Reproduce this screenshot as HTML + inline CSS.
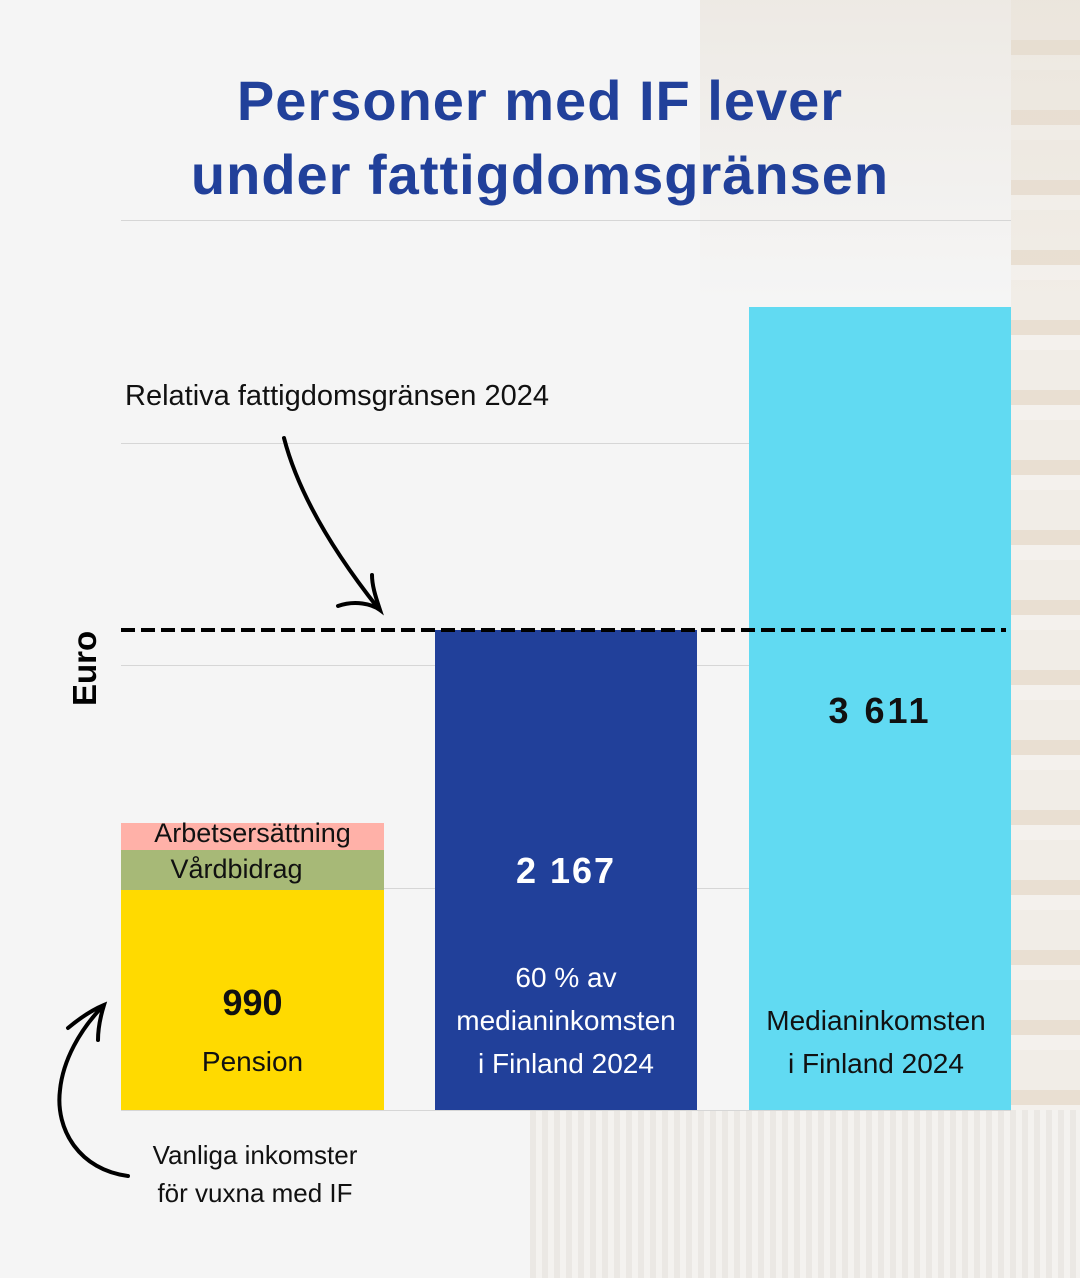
<!DOCTYPE html>
<html><head><meta charset="utf-8"><style>
body{margin:0}
#c{position:relative;width:1080px;height:1278px;background:#f5f5f5;overflow:hidden;font-family:"Liberation Sans",sans-serif}
.abs{position:absolute}
.t{left:0;width:1080px;text-align:center;color:#21409a;font-weight:bold;font-size:56px;letter-spacing:1px}
.g{height:1px;background:#d6d6d6;left:121px;width:890px}
.lbl{color:#111;font-size:28px;text-align:center}
</style></head><body><div id="c">
<div class="abs" style="left:1011px;top:0;width:69px;height:1278px;background:repeating-linear-gradient(180deg,#f1ede7 0 40px,#e9dfd2 40px 55px,#f4f1ed 55px 70px)"></div>
<div class="abs" style="left:700px;top:0;width:380px;height:300px;background:linear-gradient(180deg,rgba(228,220,208,.45),rgba(245,245,245,0));"></div>
<div class="abs" style="left:530px;top:1110px;width:550px;height:168px;background:repeating-linear-gradient(90deg,#ebe8e4 0 6px,#f4f2ef 6px 12px)"></div>
<div class="abs t" style="top:68px">Personer med IF lever</div>
<div class="abs t" style="top:142px">under fattigdomsgränsen</div>
<div class="abs g" style="top:220px"></div>
<div class="abs g" style="top:443px"></div>
<div class="abs g" style="top:665px"></div>
<div class="abs g" style="top:888px"></div>
<div class="abs g" style="top:1110px"></div>
<div class="abs" style="left:125px;top:380px;font-size:29px;color:#111">Relativa fattigdomsgränsen 2024</div>
<div class="abs" style="left:121px;top:823px;width:263px;height:27px;background:#ffb1a8"></div>
<div class="abs" style="left:121px;top:850px;width:263px;height:40px;background:#a7b977"></div>
<div class="abs" style="left:121px;top:890px;width:263px;height:220px;background:#ffda00"></div>
<div class="abs lbl" style="left:121px;width:263px;top:818px;font-size:27px">Arbetsersättning</div>
<div class="abs lbl" style="left:105px;width:263px;top:854px;font-size:27px">Vårdbidrag</div>
<div class="abs lbl" style="left:121px;width:263px;top:982px;font-size:36px;font-weight:bold">990</div>
<div class="abs lbl" style="left:121px;width:263px;top:1046px">Pension</div>
<div class="abs" style="left:435px;top:630px;width:262px;height:480px;background:#21409a"></div>
<div class="abs lbl" style="left:435px;width:262px;top:850px;font-size:36px;font-weight:bold;color:#fff;letter-spacing:2px">2 167</div>
<div class="abs lbl" style="left:435px;width:262px;top:956px;color:#fff;line-height:43px">60 % av<br>medianinkomsten<br>i Finland 2024</div>
<div class="abs" style="left:749px;top:307px;width:262px;height:803px;background:#61daf2"></div>
<div class="abs lbl" style="left:749px;width:262px;top:690px;font-size:36px;font-weight:bold;letter-spacing:3px">3 611</div>
<div class="abs lbl" style="left:745px;width:262px;top:999px;line-height:43px">Medianinkomsten<br>i Finland 2024</div>
<div class="abs" style="left:66px;top:706px;transform:rotate(-90deg);transform-origin:0 0;font-size:33px;font-weight:bold;color:#000">Euro</div>
<div class="abs lbl" style="left:140px;width:230px;top:1136px;line-height:38px;font-size:26px">Vanliga inkomster<br>för vuxna med IF</div>
<svg class="abs" style="left:0;top:0" width="1080" height="1278" fill="none" stroke="#000" stroke-width="4" stroke-linecap="round">
<line x1="121" y1="630" x2="1006" y2="630" stroke-dasharray="14 6" stroke-linecap="butt" stroke-width="4"/>
<path d="M284 438 C300 500 340 560 378 608"/>
<path d="M338 606 C355 600 372 604 380 610 C375 595 372 585 372 575"/>
<path d="M128 1176 C80 1170 55 1130 60 1090 C63 1060 80 1030 102 1007"/>
<path d="M68 1028 C80 1018 92 1010 104 1005 C100 1018 98 1030 98 1040"/>
</svg>
</div></body></html>
